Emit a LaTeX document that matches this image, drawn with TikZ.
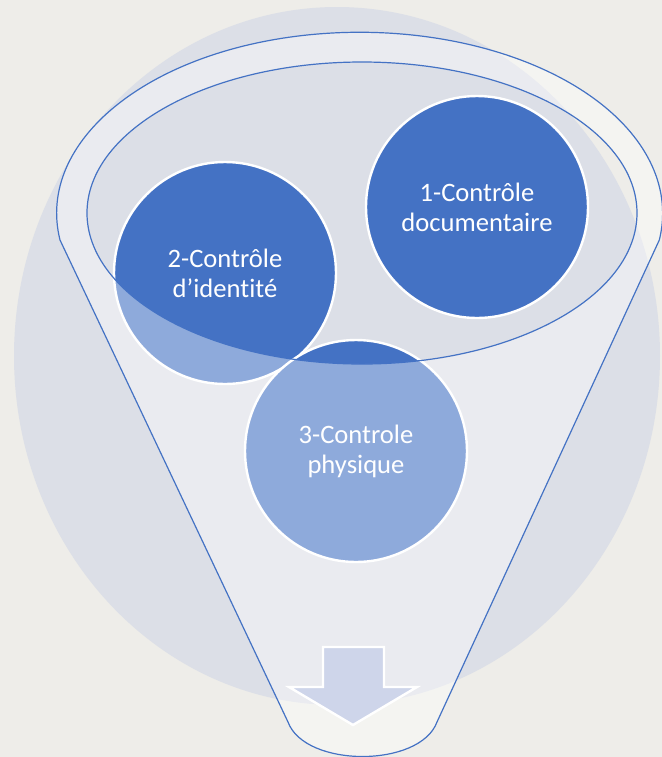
\documentclass[tikz,border=0pt]{standalone}
\usepackage{fontspec}
\setmainfont[Ligatures=NoCommon]{Carlito}
\definecolor{bgcol}{HTML}{EEEDE9}
\definecolor{disccol}{HTML}{DCDFE7}
\definecolor{stagecol}{HTML}{4472C4}
\definecolor{arrowcol}{HTML}{CED5EA}
\begin{document}
\begin{tikzpicture}[x=0.5pt,y=-0.5pt,
  stage/.style={circle,fill=stagecol,draw=white,line width=1.2pt,minimum size=111pt,inner sep=0pt,
    text=white,align=center,font=\fontsize{13.3}{15}\selectfont},
  rim/.style={draw=stagecol,line width=0.6pt}]
  \useasboundingbox (0,0) rectangle (662,757);
  \clip (0,0) rectangle (662,757);
  \fill[bgcol] (0,0) rectangle (662,757);
  \fill[disccol] (337,356) ellipse [x radius=323,y radius=349];
  \node[stage] (doc) at (477,207) {1-Contrôle\\documentaire};
  \node[stage] (ident) at (225,273) {2-Contrôle\\d’identité};
  \node[stage] (phys) at (356,451) {3-Controle\\physique};
  \fill[white,fill opacity=0.4,even odd rule]
    (288,722) -- (60,240) arc[start angle=171.5,end angle=368.5,x radius=303,y radius=181]
    -- (437,722) .. controls (420,768) and (305,768) .. (288,722)
    (362,213) ellipse [x radius=275,y radius=151];
  \filldraw[fill=arrowcol,draw=white,line width=1.2pt]
    (323,647) -- (384,647) -- (384,687) -- (417,687) -- (353,725) -- (289,687) -- (323,687) -- cycle;
  \draw[rim] (288,722) -- (60,240) arc[start angle=171.5,end angle=368.5,x radius=303,y radius=181]
    -- (437,722) .. controls (420,768) and (305,768) .. (288,722);
  \draw[rim] (362,213) ellipse [x radius=275,y radius=151];
\end{tikzpicture}
\end{document}
